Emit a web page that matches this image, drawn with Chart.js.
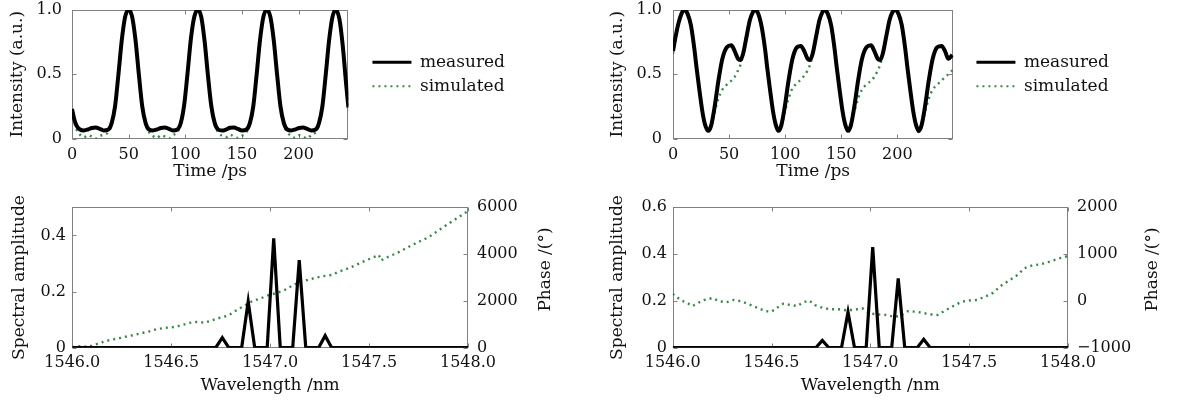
<!DOCTYPE html>
<html><head><meta charset="utf-8">
<script src="https://cdn.jsdelivr.net/npm/chart.js@4"></script>
<style>
html,body{margin:0;padding:0;background:#fff;}
body{width:1177px;height:406px;position:relative;overflow:hidden;}
canvas{position:absolute;}
</style></head><body>
<canvas id="tl" width="600" height="190" style="left:0;top:0;width:600px;height:190px"></canvas>
<canvas id="tr" width="577" height="190" style="left:600px;top:0;width:577px;height:190px"></canvas>
<canvas id="bl" width="600" height="216" style="left:0;top:190px;width:600px;height:216px"></canvas>
<canvas id="br" width="577" height="216" style="left:600px;top:190px;width:577px;height:216px"></canvas>
<script>
// ---------- data ----------
const timeTickValues = [0, 50, 100, 150, 200];
const timeTickLabels = ['0', '50', '100', '150', '200'];
const intensityTickValues = [0, 0.5, 1];
const intensityTickLabels = ['0', '0.5', '1.0'];
const wlTickValues = [1546, 1546.5, 1547, 1547.5, 1548];
const wlTickLabels = ['1546.0', '1546.5', '1547.0', '1547.5', '1548.0'];
const blAmpTickValues = [0, 0.2, 0.4];
const blAmpTickLabels = ['0', '0.2', '0.4'];
const blPhaseTickValues = [0, 2000, 4000, 6000];
const blPhaseTickLabels = ['0', '2000', '4000', '6000'];
const brAmpTickValues = [0, 0.2, 0.4, 0.6];
const brAmpTickLabels = ['0', '0.2', '0.4', '0.6'];
const brPhaseTickValues = [-1000, 0, 1000, 2000];
const brPhaseTickLabels = ['\u22121000', '0', '1000', '2000'];
const seriesNames = ['measured', 'simulated'];

// top-left: intensity vs time
const tlTime = [0,2,4,7,10.5,14,17.5,21,24.5,28,32,
  35,38,41,44,47,50,53,56,59,62,65,68,
  71.5,75,78.5,82,85.5,89,93,
  96,99,102,105,108,111,114,117,120,123,126,129,
  132.5,136,139.5,143,146.5,150,154,
  157,160,163,166,169,172,175,178,181,184,187,190,
  193.5,197,200.5,204,207.5,211,215,
  218,221,224,227,230,233,236,239,242,244];
const tlMeasured = [0.23,0.15,0.10,0.07,0.063,0.07,0.082,0.085,0.075,0.063,0.07,
  0.12,0.25,0.50,0.77,0.95,1.00,0.95,0.77,0.50,0.25,0.12,0.07,
  0.063,0.07,0.082,0.086,0.075,0.063,0.07,
  0.12,0.26,0.51,0.78,0.95,1.00,0.95,0.76,0.49,0.25,0.12,0.07,
  0.062,0.07,0.083,0.085,0.074,0.062,0.07,
  0.12,0.25,0.50,0.77,0.95,1.00,0.95,0.77,0.50,0.25,0.12,0.07,
  0.063,0.07,0.082,0.085,0.075,0.063,0.07,
  0.12,0.25,0.50,0.77,0.95,1.00,0.93,0.72,0.42,0.24];
const tlSimulated = [0.21,0.13,0.07,0.03,0.01,0.025,0.015,0.0,0.02,0.03,0.05,
  0.11,0.25,0.50,0.77,0.95,1.00,0.95,0.77,0.50,0.25,0.11,0.05,
  0.02,0.005,0.025,0.015,0.0,0.025,0.05,
  0.11,0.26,0.51,0.78,0.95,1.00,0.95,0.76,0.49,0.25,0.11,0.05,
  0.02,0.01,0.03,0.015,0.005,0.02,0.05,
  0.11,0.25,0.50,0.77,0.95,1.00,0.95,0.77,0.50,0.25,0.11,0.05,
  0.02,0.005,0.025,0.015,0.0,0.025,0.05,
  0.11,0.25,0.50,0.77,0.95,1.00,0.93,0.72,0.42,0.22];

// top-right: intensity vs time
const trTime = [0,2.5,5,7.5,
  10,13,16,19,21,23.5,26,28.5,31.5,34,37,40.5,44,48,52,55,58,60,62.5,65.5,68.5,71,
  73,76,79,82,84,86.5,89,91.5,94,96.5,99.5,103,106.5,110.5,114,117,120,122,124.5,127.5,130.5,133,
  135,138,141,144,146,148.5,151,153.5,156,158.5,161.5,165,168.5,172.5,176.5,179.5,182.5,184.5,187,190,193,195.5,
  198,201,204,207,209,211.5,214,216.5,219,221.5,224.5,228,231.5,235.5,239.5,242.5,245.5,249];
const trMeasured = [0.68,0.80,0.90,0.97,
  1.00,0.97,0.88,0.70,0.55,0.38,0.22,0.11,0.06,0.10,0.24,0.45,0.62,0.71,0.725,0.68,0.62,0.61,0.66,0.79,0.92,0.98,
  1.00,0.97,0.87,0.70,0.55,0.38,0.22,0.11,0.06,0.10,0.24,0.45,0.62,0.71,0.72,0.68,0.62,0.61,0.66,0.79,0.92,0.98,
  1.00,0.97,0.88,0.70,0.55,0.38,0.22,0.11,0.06,0.10,0.24,0.45,0.62,0.71,0.725,0.68,0.62,0.61,0.66,0.79,0.92,0.98,
  1.00,0.97,0.88,0.70,0.55,0.38,0.22,0.11,0.06,0.10,0.24,0.45,0.62,0.71,0.72,0.68,0.62,0.65];
const trSimulated = [0.66,0.79,0.90,0.97,
  1.00,0.97,0.88,0.70,0.55,0.38,0.22,0.11,0.05,0.09,0.20,0.31,0.38,0.42,0.45,0.48,0.53,0.57,0.65,0.79,0.92,0.98,
  1.00,0.97,0.87,0.70,0.55,0.38,0.22,0.11,0.05,0.09,0.20,0.31,0.39,0.43,0.46,0.49,0.53,0.57,0.65,0.79,0.92,0.98,
  1.00,0.97,0.88,0.70,0.55,0.38,0.22,0.11,0.05,0.09,0.20,0.31,0.38,0.42,0.45,0.48,0.53,0.57,0.65,0.79,0.92,0.98,
  1.00,0.97,0.88,0.70,0.55,0.38,0.22,0.11,0.05,0.09,0.20,0.31,0.38,0.42,0.45,0.48,0.50,0.53];

// bottom-left: spectrum
const blWave = [1546.0,1546.725,1546.758,1546.791,1546.856,1546.889,1546.922,1546.985,1547.018,1547.051,1547.114,1547.147,1547.18,1547.245,1547.278,1547.311,1548.0];
const blAmp  = [0,0,0.036,0,0,0.165,0,0,0.389,0,0,0.312,0,0,0.043,0,0];
const blPhaseWave = [1546.00,1546.04,1546.08,1546.11,1546.15,1546.19,1546.23,1546.27,1546.31,1546.35,1546.39,1546.43,1546.47,1546.51,1546.55,1546.59,1546.63,1546.67,1546.71,1546.75,1546.79,1546.83,1546.87,1546.91,1546.95,1546.99,1547.03,1547.07,1547.11,1547.15,1547.19,1547.23,1547.27,1547.31,1547.35,1547.39,1547.43,1547.47,1547.51,1547.55,1547.56,1547.60,1547.64,1547.68,1547.72,1547.76,1547.80,1547.84,1547.88,1547.92,1547.96,1548.00];
const blPhase = [30,60,40,120,230,330,390,470,540,620,700,800,850,880,950,1060,1100,1070,1180,1290,1380,1600,1800,1990,2100,2240,2330,2450,2640,2820,2900,2990,3060,3110,3260,3380,3520,3680,3820,3960,3730,3900,4040,4220,4400,4560,4720,4950,5180,5400,5620,5840];

// bottom-right: spectrum
const brWave = [1546.0,1546.724,1546.757,1546.79,1546.854,1546.887,1546.92,1546.979,1547.012,1547.045,1547.108,1547.141,1547.174,1547.237,1547.27,1547.303,1548.0];
const brAmp  = [0,0,0.031,0,0,0.152,0,0,0.43,0,0,0.296,0,0,0.036,0,0];
const brPhaseWave = [1546.00,1546.04,1546.08,1546.10,1546.13,1546.16,1546.20,1546.24,1546.27,1546.31,1546.35,1546.39,1546.43,1546.47,1546.50,1546.53,1546.56,1546.60,1546.63,1546.66,1546.69,1546.72,1546.76,1546.80,1546.84,1546.88,1546.92,1546.96,1547.00,1547.04,1547.08,1547.12,1547.15,1547.19,1547.23,1547.27,1547.31,1547.34,1547.38,1547.42,1547.46,1547.50,1547.54,1547.58,1547.62,1547.66,1547.70,1547.74,1547.78,1547.82,1547.86,1547.90,1547.95,1548.00];
const brPhase = [150,20,-60,-110,-40,20,60,-10,-30,20,-10,-80,-150,-220,-230,-140,-60,-90,-110,-30,10,-90,-150,-180,-180,-200,-190,-160,-270,-290,-300,-340,-320,-220,-230,-260,-290,-300,-200,-110,-20,10,20,90,170,320,430,540,700,760,780,830,900,960];

// ---------- style ----------
const FONT = 'DejaVu Serif';
const INK = '#111111';
const FRAME = '#808080';
const GREEN = 'rgba(36,122,52,0.9)';
Chart.defaults.font.family = FONT;
Chart.defaults.color = INK;

function pts(xs, ys) { return xs.map((x, i) => ({x: x, y: ys[i]})); }
function fixedTicks(values) { return s => { s.ticks = values.map(v => ({value: v})); }; }
function labelsFrom(labels) { return (v, i) => labels[i]; }
function fixWidth(w) { return s => { s.width = w; s.paddingTop = 0; s.paddingBottom = 0; }; }
function fixHeight(h) { return s => { s.height = h; s.paddingLeft = 0; s.paddingRight = 0; }; }

// legend width (as Chart.js computes it) so the plot area lands where wanted
const LEGEND_FONT = 17, LEGEND_BOX = 39, LEGEND_PAD = 7;
const measureCtx = document.createElement('canvas').getContext('2d');
measureCtx.font = LEGEND_FONT + 'px ' + FONT;
const legendTextW = Math.max.apply(null, seriesNames.map(n => measureCtx.measureText(n).width));
const legendW = Math.ceil(LEGEND_PAD + LEGEND_BOX + LEGEND_FONT / 2 + legendTextW + 10);

const framePlugin = {
  id: 'frame',
  beforeDatasetsDraw(chart) {
    const {ctx, chartArea: a, scales} = chart;
    const L = 4;
    const l = Math.round(a.left) + 0.5, r = Math.round(a.right) - 0.5;
    const t = Math.round(a.top) + 0.5, b = Math.round(a.bottom) - 0.5;
    ctx.save();
    ctx.strokeStyle = FRAME; ctx.lineWidth = 1;
    ctx.strokeRect(l, t, r - l, b - t);
    ctx.beginPath();
    scales.x.ticks.forEach(tk => {
      const p = Math.round(scales.x.getPixelForValue(tk.value)) + 0.5;
      ctx.moveTo(p, t); ctx.lineTo(p, t + L); ctx.moveTo(p, b); ctx.lineTo(p, b - L);
    });
    scales.y.ticks.forEach(tk => {
      const p = Math.round(scales.y.getPixelForValue(tk.value)) + 0.5;
      ctx.moveTo(l, p); ctx.lineTo(l + L, p);
      if (!scales.y2) { ctx.moveTo(r, p); ctx.lineTo(r - L, p); }
    });
    if (scales.y2) scales.y2.ticks.forEach(tk => {
      const p = Math.round(scales.y2.getPixelForValue(tk.value)) + 0.5;
      ctx.moveTo(r, p); ctx.lineTo(r - L, p);
    });
    ctx.stroke();
    ctx.restore();
  }
};

const sideTitle = {
  id: 'sideTitle',
  afterDraw(chart, args, o) {
    if (!o || !o.text) return;
    const {ctx, chartArea: a} = chart;
    ctx.save();
    ctx.translate(a.right + o.offset, (a.top + a.bottom) / 2 + (o.dy || 0));
    ctx.rotate(-Math.PI / 2);
    ctx.font = o.size + 'px ' + FONT;
    ctx.fillStyle = INK; ctx.textAlign = 'center'; ctx.textBaseline = 'middle';
    ctx.fillText(o.text, 0, 0);
    ctx.restore();
  }
};

const noGrid = {display: false, drawTicks: false};
const noBorder = {display: false};

function legendCfg() {
  return {
    display: true, position: 'right', align: 'center', fullSize: false, maxWidth: legendW,
    labels: {
      usePointStyle: true, pointStyleWidth: LEGEND_BOX, padding: LEGEND_PAD, color: INK, font: {size: LEGEND_FONT},
      generateLabels: chart => chart.data.datasets.map((d, i) => ({
        text: d.label, strokeStyle: d.borderColor, fillStyle: d.borderColor,
        lineWidth: d.legendWidth, lineDash: d.borderDash || [], pointStyle: 'line',
        datasetIndex: i, hidden: false, fontColor: INK
      }))
    }
  };
}

function timeChart(id, canvasW, plotRight, time, meas, sim, xMax, yWidth, yPad, spacer) {
  const padRight = canvasW - plotRight - spacer - legendW;
  return new Chart(document.getElementById(id), {
    type: 'line',
    data: {datasets: [
      {label: seriesNames[0], data: pts(time, meas), borderColor: '#000', borderWidth: 4, legendWidth: 3,
       pointRadius: 0, cubicInterpolationMode: 'monotone', order: 0},
      {label: seriesNames[1], data: pts(time, sim), borderColor: GREEN, borderWidth: 2.4, legendWidth: 2.2,
       borderDash: [2, 4], pointRadius: 0, cubicInterpolationMode: 'monotone', order: 1}
    ]},
    options: {
      responsive: false, animation: false, devicePixelRatio: 1, events: [],
      layout: {padding: {left: 0, top: 10, right: padRight, bottom: 0}},
      scales: {
        x: {type: 'linear', min: 0, max: xMax, grid: noGrid, border: noBorder,
            afterBuildTicks: fixedTicks(timeTickValues), afterFit: fixHeight(51.5),
            ticks: {padding: 7, autoSkip: false, maxRotation: 0, font: {size: 16}, callback: labelsFrom(timeTickLabels)},
            title: {display: true, text: 'Time /ps', font: {size: 17}, padding: {top: 0, bottom: 8}}},
        y: {type: 'linear', min: 0, max: 1, grid: noGrid, border: noBorder,
            afterBuildTicks: fixedTicks(intensityTickValues), afterFit: fixWidth(yWidth),
            ticks: {padding: yPad, font: {size: 16}, callback: labelsFrom(intensityTickLabels)},
            title: {display: true, text: 'Intensity (a.u.)', font: {size: 17}, padding: {top: 7.8, bottom: 0}}},
        pad: {type: 'linear', position: 'right', display: true, grid: noGrid, border: noBorder,
              ticks: {display: false}, afterFit: fixWidth(spacer)}
      },
      plugins: {legend: legendCfg(), tooltip: {enabled: false}}
    },
    plugins: [framePlugin]
  });
}

function specChart(id, wave, amp, pWave, phase, ampMax, ampTicks, ampLabels, phMin, phMax, phTicks, phLabels,
                   yWidth, yPad, yTitlePad, rightPad, rPad, titleOffset) {
  return new Chart(document.getElementById(id), {
    type: 'line',
    data: {datasets: [
      {label: 'Spectral amplitude', data: pts(wave, amp), yAxisID: 'y', borderColor: '#000', borderWidth: 3.2,
       pointRadius: 0, tension: 0, order: 0},
      {label: 'Phase', data: pts(pWave, phase), yAxisID: 'y2', borderColor: GREEN, borderWidth: 2.4,
       borderDash: [2, 4], pointRadius: 0, tension: 0, order: 1}
    ]},
    options: {
      responsive: false, animation: false, devicePixelRatio: 1, events: [],
      layout: {padding: {left: 0, top: 17.3, right: rightPad, bottom: 0}},
      scales: {
        x: {type: 'linear', min: 1546, max: 1548, grid: noGrid, border: noBorder,
            afterBuildTicks: fixedTicks(wlTickValues), afterFit: fixHeight(58.3),
            ticks: {padding: 6, autoSkip: false, maxRotation: 0, font: {size: 16}, callback: labelsFrom(wlTickLabels)},
            title: {display: true, text: 'Wavelength /nm', font: {size: 17}, padding: {top: 0, bottom: 10}}},
        y: {type: 'linear', position: 'left', min: 0, max: ampMax, grid: noGrid, border: noBorder,
            afterBuildTicks: fixedTicks(ampTicks), afterFit: fixWidth(yWidth),
            ticks: {padding: yPad, font: {size: 16}, callback: labelsFrom(ampLabels)},
            title: {display: true, text: 'Spectral amplitude', font: {size: 17}, padding: {top: yTitlePad, bottom: 0}}},
        y2: {type: 'linear', position: 'right', min: phMin, max: phMax, grid: noGrid, border: noBorder,
             afterBuildTicks: fixedTicks(phTicks), afterFit: fixWidth(95),
             ticks: {padding: rPad, font: {size: 16}, callback: labelsFrom(phLabels)},
             title: {display: false}}
      },
      plugins: {legend: {display: false}, tooltip: {enabled: false},
                sideTitle: {text: 'Phase /(\u00b0)', offset: titleOffset, dy: -8, size: 17}}
    },
    plugins: [framePlugin, sideTitle]
  });
}

timeChart('tl', 600, 348, tlTime, tlMeasured, tlSimulated, 244, 72, 10, 17);
timeChart('tr', 577, 353, trTime, trMeasured, trSimulated, 250, 73, 11, 16);
specChart('bl', blWave, blAmp, blPhaseWave, blPhase, 0.5, blAmpTickValues, blAmpTickLabels,
          0, 6000, blPhaseTickValues, blPhaseTickLabels, 72.3, 6.3, 9.4, 37, 9, 78);
specChart('br', brWave, brAmp, brPhaseWave, brPhase, 0.6, brAmpTickValues, brAmpTickLabels,
          -1000, 2000, brPhaseTickValues, brPhaseTickLabels, 72.7, 5.7, 7.8, 14, 9, 85);
</script>
</body></html>
